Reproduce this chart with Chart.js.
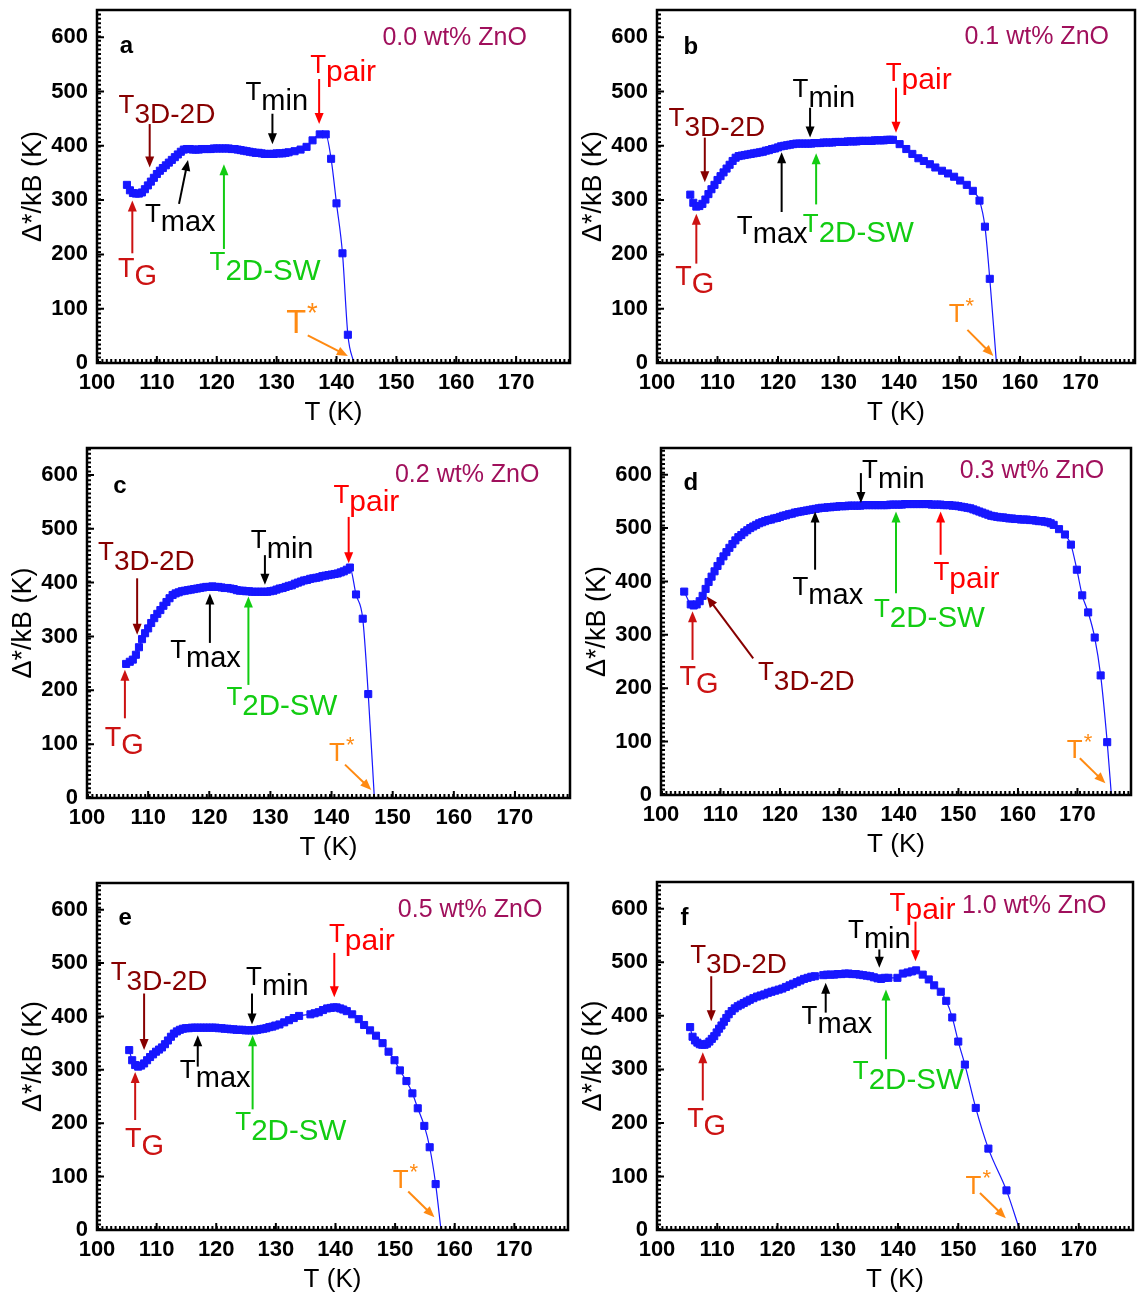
<!DOCTYPE html>
<html>
<head>
<meta charset="utf-8">
<script src="https://cdn.jsdelivr.net/npm/chart.js@4.4.0/dist/chart.umd.min.js"></script>
<style>
  body { margin: 0; background: #fff; width: 1145px; height: 1299px; position: relative; overflow: hidden; }
  canvas { position: absolute; }
</style>
</head>
<body>
<canvas id="pa"></canvas>
<canvas id="pb"></canvas>
<canvas id="pc"></canvas>
<canvas id="pd"></canvas>
<canvas id="pe"></canvas>
<canvas id="pf"></canvas>
<script>
// ---- data: temperature (K) and gap Δ*/kB (K) for each ZnO content ----
const tempA = [105,105.5,106,106.5,107,107.5,108,108.5,109,109.5,110,110.5,111,111.5,112,112.5,113,113.5,114,114.5,
  115,115.5,116,116.5,117,117.5,118,118.5,119,119.5,120,120.5,121,121.5,122,122.5,123,123.5,124,124.5,
  125,125.5,126,126.5,127,127.5,128,128.5,129,129.5,130,130.5,131,131.5,132,
  133,134,135,136,137.2,138.2,139.1,140,141,141.9,142.9];
const gapA = [328,318,313,312,312,314,320,327,334,341,348,354,359,364,369,374,379,384,389,393,
  394,394,393,393,393,394,394,394,394,395,395,395,395,395,395,394,394,393,392,391,
  390,389,388,387,387,386,385,385,385,385,386,386,386,387,388,
  390,393,398,410,421,421,376,294,202,52,0];

const tempB = [105.5,106,106.5,107,107.5,108,108.5,109,109.5,110,110.5,111,111.5,112,112.5,113,113.5,114,114.5,115,
  115.5,116,116.5,117,117.5,118,118.5,119,119.5,120,120.5,121,121.5,122,122.5,123,123.5,124,124.5,125,
  125.5,126,126.5,127,127.5,128,128.5,129,129.5,130,130.5,131,131.5,132,132.5,133,133.5,134,134.5,135,
  135.5,136,136.5,137,137.5,138,138.5,139,
  140.1,141.2,142.2,143.2,144.1,145.1,146,147.1,148.1,149.1,150.1,151.2,152.2,153.3,154.2,155,156.1];
const gapB = [310,295,288,289,293,301,311,320,328,337,344,351,358,365,372,378,381,382,383,384,
  385,386,387,388,389,391,392,394,395,397,399,400,401,402,403,404,404,404,404,404,
  404,405,405,405,406,406,406,406,407,407,407,407,408,408,408,408,409,409,409,409,
  409,410,410,410,410,411,411,411,
  403,394,385,377,372,366,360,354,349,343,336,328,317,299,251,155,0];

const tempC = [106.4,107,107.5,108,108.5,109,109.5,110,110.5,111,111.5,112,112.5,113,113.5,114,114.5,115,115.5,116,116.5,
  117,117.5,118,118.5,119,119.5,120,120.5,121,121.5,122,122.5,123,123.5,124,124.5,125,125.5,126,126.5,
  127,127.5,128,128.5,129,129.5,130,130.5,131,131.5,132,132.5,133,133.5,134,134.5,135,135.5,136,136.5,
  137,137.5,138,138.5,139,139.5,140,140.5,141,141.5,142,142.5,143,
  144,145.1,146,147];
const gapC = [249,253,257,266,280,295,306,315,325,334,342,349,357,364,371,377,380,382,384,385,386,
  387,388,389,390,391,392,392,393,392,392,391,390,390,389,388,386,385,385,384,384,
  383,383,383,383,383,383,384,385,387,389,390,392,394,395,398,400,402,404,405,407,
  408,409,410,412,413,414,415,416,417,419,421,424,428,
  378,333,193,0];

const tempD = [103.9,105,105.5,106,106.5,107,107.5,108,108.5,109,109.5,110,110.5,111,111.5,112,112.5,113,113.5,114,114.5,
  115,115.5,116,116.5,117,117.5,118,118.5,119,119.5,120,120.5,121,121.5,122,122.5,123,123.5,124,124.5,
  125,125.5,126,126.5,127,127.5,128,128.5,129,129.5,130,130.5,131,131.5,132,132.5,133,133.5,134,134.5,
  135,135.5,136,136.5,137,137.5,138,138.5,139,139.5,140,140.5,141,141.5,142,142.5,143,143.5,144,144.5,
  145,145.5,146,146.5,147,147.5,148,148.5,149,149.5,150,150.5,151,151.5,152,152.5,153,153.5,154,154.5,
  155,155.5,156,156.5,157,157.5,158,158.5,159,159.5,160,160.5,161,161.5,162,162.5,163,163.5,164,164.5,
  165,165.5,166,
  166.9,167.9,168.9,169.9,170.8,171.8,172.9,173.9,175,175.7];
const gapD = [381,357,355,357,363,373,386,399,409,419,429,438,447,455,463,470,477,483,487,492,496,
  500,503,506,509,511,513,515,516,518,519,521,523,524,526,527,529,530,531,532,533,
  534,535,536,537,538,538,539,539,540,540,541,541,541,542,542,542,542,542,543,543,
  543,543,543,543,543,543,543,544,544,544,544,544,545,545,545,545,545,545,545,545,
  545,544,544,544,544,543,543,543,542,542,541,540,539,538,537,535,533,531,529,527,
  525,523,522,521,520,520,519,518,518,517,517,516,516,516,515,515,514,513,513,512,
  511,509,506,
  498,488,469,422,374,342,295,224,99,0];

const tempE = [105.4,105.9,106.4,106.9,107.4,107.9,108.4,108.9,109.4,109.9,110.4,110.9,111.4,111.9,112.4,112.9,113.4,113.9,114.4,114.9,
  115.4,115.9,116.4,116.9,117.4,117.9,118.4,118.9,119.4,119.9,120.4,120.9,121.4,121.9,122.4,122.9,123.4,123.9,124.4,124.9,
  125.4,125.9,126.4,126.9,127.4,127.9,128.4,128.9,129.4,129.9,
  130.6,131.4,132.2,133,133.9,135.8,136.5,137.2,137.9,138.6,139.2,139.7,140.2,140.8,141.3,141.9,142.8,143.9,144.8,145.8,
  146.8,147.9,148.9,149.9,150.8,151.9,152.9,153.8,154.9,155.8,156.8,157.7];
const gapE = [337,318,309,306,308,312,318,324,329,334,338,342,348,355,362,368,372,375,377,378,
  378,379,379,379,379,379,379,379,379,379,378,378,377,377,376,376,375,375,375,374,
  374,374,374,375,376,377,378,380,381,383,
  385,389,393,397,401,404,406,408,412,415,416,417,417,415,413,410,404,395,384,374,
  364,350,334,318,299,279,256,228,195,155,86,0];

const tempF = [105.5,105.9,106.3,106.7,107.1,107.5,107.9,108.3,108.7,109.1,109.5,109.9,110.3,110.7,111.1,111.5,111.9,112.4,112.9,113.4,
  113.9,114.4,114.9,115.4,116,116.6,117.2,117.8,118.4,119,119.6,120.2,120.8,121.4,122,122.6,123.2,123.8,124.4,125,
  125.6,126.2,127.6,128.2,128.8,129.4,130,130.6,131.2,131.8,132.4,133,133.6,134.2,134.8,135.4,136,136.6,137.2,137.8,
  138.4,139.9,140.8,141.6,142.3,143,144.1,145.1,146,147.1,148,149,150,151.1,152.9,155,158,160.2];
const gapF = [379,361,354,350,347,346,346,348,352,357,362,369,376,382,389,396,403,409,414,418,
  421,424,427,430,433,436,438,440,443,445,447,449,451,454,457,460,463,466,469,471,
  473,474,476,477,477,477,478,478,479,479,478,478,477,476,475,474,472,470,469,471,
  471,471,479,481,483,485,477,468,457,445,428,397,352,309,228,152,74,0];

// tick labels
const xTicks = [100, 110, 120, 130, 140, 150, 160, 170];
const yTicks = [0, 100, 200, 300, 400, 500, 600];

// ---- annotations, in data units: [kind, tailT, tailGap, tipT, tipGap] and [kind, T, gap, scale] ----
const arrowsA = [['d32',108.8,440,108.8,360],['G',105.9,202,105.9,299],['max',113.7,293,115.2,374],
  ['sw',121.2,210,121.2,366],['min',129.3,459,129.3,403],['pair',137.1,523,137.1,440],['star',135.2,51,141.9,13]];
const labelsA = [['d32',103.6,460],['G',103.5,158],['max',108,259],['sw',118.8,171],
  ['min',124.8,484],['pair',135.6,534],['star',131.6,55,1.25]];

const arrowsB = [['d32',107.9,415,107.9,333],['G',106.5,183,106.5,275],['max',120.6,278,120.6,388],
  ['sw',126.3,292,126.3,386],['min',125.3,470,125.3,415],['pair',139.5,507,139.5,424],['star',151.3,61,155.6,13]];
const labelsB = [['d32',101.9,437],['G',103,143],['max',113.2,238],['sw',124.1,241],
  ['min',122.4,489],['pair',137.8,519],['star',148.2,76]];

const arrowsC = [['d32',108.2,408,108.2,303],['G',106.2,148,106.2,238],['max',120.1,288,120.1,380],
  ['sw',126.4,210,126.4,374],['min',129.1,451,129.1,396],['pair',142.8,522,142.8,436],['star',142.2,62,146.5,15]];
const labelsC = [['d32',101.8,442],['G',102.9,96],['max',113.6,260],['sw',122.8,173],
  ['min',126.8,464],['pair',140.3,547],['star',139.6,68]];

const arrowsD = [['min',133.6,603,133.6,547],['max',125.9,422,125.9,531],['sw',139.5,378,139.5,531],
  ['pair',147,450,147,531],['G',105.3,253,105.3,344],['d32',115.5,256,107.7,372],['star',170.4,69,174.7,22]];
const labelsD = [['min',133.8,594],['max',122.1,375],['sw',135.8,333],['pair',145.8,403],
  ['G',103.1,206],['d32',116.3,216],['star',168.2,69]];

const arrowsE = [['d32',107.9,443,107.9,337],['G',106.4,206,106.4,296],['max',116.9,306,116.9,365],
  ['sw',126.1,226,126.1,365],['min',126,443,126,385],['pair',139.8,519,139.8,436],['star',152.2,72,156.6,24]];
const labelsE = [['d32',102.3,468],['G',104.7,156],['max',113.9,284],['sw',123.2,187],
  ['min',125,458],['pair',138.9,539],['star',149.6,78]];

const arrowsF = [['d32',109,474,109,390],['G',107.6,242,107.6,332],['max',128,406,128,462],
  ['sw',138,319,138,449],['min',136.9,524,136.9,490],['pair',142.9,576,142.9,502],['star',153.6,69,157.9,22]];
const labelsF = [['d32',105.5,499],['G',105,192],['max',124,384],['sw',132.5,282],
  ['min',131.7,545],['pair',138.6,596],['star',151.2,68]];

const letters = ['a', 'b', 'c', 'd', 'e', 'f'];
const letterPos = [[103.8,571],[104.4,569],[104.3,566],[103.8,571],[103.6,571],[103.9,570]];
const concLabels = ['0.0 wt% ZnO', '0.1 wt% ZnO', '0.2 wt% ZnO', '0.3 wt% ZnO', '0.5 wt% ZnO', '1.0 wt% ZnO'];
const concPos = [[171.8,585],[174.7,587],[174,586],[174.5,594],[174.7,587],[174.6,592]];

// ---- styles ----
const FONT = '"Liberation Sans", Arial, Helvetica, sans-serif';
const BLUE = '#1717ff';
const KINDS = {
  G:    { sub: 'G',     color: '#cc1212', main: 27, size: 29, dy: 8 },
  d32:  { sub: '3D-2D', color: '#870000', main: 26, size: 28, dy: 10 },
  max:  { sub: 'max',   color: '#000000', main: 26, size: 29, dy: 9 },
  min:  { sub: 'min',   color: '#000000', main: 26, size: 29, dy: 10 },
  pair: { sub: 'pair',  color: '#ff0000', main: 26, size: 30, dy: 8 },
  sw:   { sub: '2D-SW', color: '#12cc12', main: 26, size: 29.5, dy: 10 },
  star: { sup: '*',     color: '#ff8a12', main: 26, size: 22, dy: -9 }
};

// canvas box of each panel: [left, top, width, height]
const boxes = [[10,0,566,431],[570,0,571,431],[0,438,576,428],[574,438,563,425],[10,873,564,425],[570,872,569,426]];

const panels = [
  [tempA, gapA, arrowsA, labelsA], [tempB, gapB, arrowsB, labelsB], [tempC, gapC, arrowsC, labelsC],
  [tempD, gapD, arrowsD, labelsD], [tempE, gapE, arrowsE, labelsE], [tempF, gapF, arrowsF, labelsF]
];

function drawArrow(ctx, x1, y1, x2, y2, color) {
  const a = Math.atan2(y2 - y1, x2 - x1);
  const L = 11, W = 4.5;
  const c = Math.cos(a), s = Math.sin(a);
  ctx.strokeStyle = color;
  ctx.fillStyle = color;
  ctx.lineWidth = 2;
  ctx.beginPath();
  ctx.moveTo(x1, y1);
  ctx.lineTo(x2 - L * 0.8 * c, y2 - L * 0.8 * s);
  ctx.stroke();
  ctx.beginPath();
  ctx.moveTo(x2, y2);
  ctx.lineTo(x2 - L * c + W * s, y2 - L * s - W * c);
  ctx.lineTo(x2 - L * c - W * s, y2 - L * s + W * c);
  ctx.closePath();
  ctx.fill();
}

function drawLabel(ctx, x, y, kind, f) {
  const k = KINDS[kind];
  f = f || 1;
  ctx.fillStyle = k.color;
  ctx.textAlign = 'left';
  ctx.textBaseline = 'alphabetic';
  ctx.font = (k.main * f) + 'px ' + FONT;
  ctx.fillText('T', x, y);
  const w = ctx.measureText('T').width;
  ctx.font = (k.size * f) + 'px ' + FONT;
  ctx.fillText(k.sub || k.sup, x + w + (k.sup ? 1 : 0), y + k.dy * f);
}

const decor = {
  id: 'decor',
  afterDatasetsDraw(chart) {
    const ctx = chart.ctx;
    const { left, right, top, bottom } = chart.chartArea;
    const xs = chart.scales.x, ys = chart.scales.y;
    ctx.save();
    ctx.strokeStyle = '#000';
    // dotted minor ticks along inner side of bottom and left axes
    ctx.setLineDash([2, 2.4]);
    ctx.lineWidth = 3;
    ctx.beginPath();
    ctx.moveTo(left, bottom - 2.5); ctx.lineTo(right, bottom - 2.5);
    ctx.moveTo(left + 2.5, bottom); ctx.lineTo(left + 2.5, top);
    ctx.stroke();
    ctx.setLineDash([]);
    // major ticks, inward
    ctx.lineWidth = 2;
    ctx.beginPath();
    xs.ticks.forEach(t => {
      const x = xs.getPixelForValue(t.value);
      ctx.moveTo(x, bottom); ctx.lineTo(x, bottom - 7);
    });
    ys.ticks.forEach(t => {
      const y = ys.getPixelForValue(t.value);
      ctx.moveTo(left, y); ctx.lineTo(left + 7, y);
    });
    ctx.stroke();
    // frame
    ctx.lineWidth = 2.5;
    ctx.strokeRect(left, top, right - left, bottom - top);
    ctx.restore();
  },
  afterDraw(chart) {
    const i = +chart.canvas.dataset.idx;
    const ctx = chart.ctx;
    const xs = chart.scales.x, ys = chart.scales.y;
    const X = v => xs.getPixelForValue(v), Y = v => ys.getPixelForValue(v);
    ctx.save();
    panels[i][2].forEach(a => drawArrow(ctx, X(a[1]), Y(a[2]), X(a[3]), Y(a[4]), KINDS[a[0]].color));
    panels[i][3].forEach(l => drawLabel(ctx, X(l[1]), Y(l[2]), l[0], l[3]));
    ctx.fillStyle = '#000';
    ctx.textAlign = 'left';
    ctx.textBaseline = 'alphabetic';
    ctx.font = 'bold 24px ' + FONT;
    ctx.fillText(letters[i], X(letterPos[i][0]), Y(letterPos[i][1]));
    ctx.fillStyle = '#a0105c';
    ctx.textAlign = 'right';
    ctx.font = '25px ' + FONT;
    ctx.fillText(concLabels[i], X(concPos[i][0]), Y(concPos[i][1]));
    ctx.restore();
  }
};

['pa', 'pb', 'pc', 'pd', 'pe', 'pf'].forEach((id, i) => {
  const el = document.getElementById(id);
  const b = boxes[i];
  el.width = b[2];
  el.height = b[3];
  el.style.left = b[0] + 'px';
  el.style.top = b[1] + 'px';
  el.dataset.idx = i;
  const temps = panels[i][0], gaps = panels[i][1];

  new Chart(el, {
    type: 'scatter',
    data: {
      datasets: [{
        data: temps.map((t, j) => ({ x: t, y: gaps[j] })),
        showLine: true,
        borderColor: BLUE,
        borderWidth: 1.2,
        backgroundColor: BLUE,
        pointBackgroundColor: BLUE,
        pointBorderColor: BLUE,
        pointBorderWidth: 1,
        pointStyle: 'rect',
        pointRadius: c => (c.raw && c.raw.y === 0 ? 0 : 5),
        cubicInterpolationMode: 'monotone'
      }]
    },
    options: {
      responsive: false,
      animation: false,
      events: [],
      layout: { padding: { top: 10, right: 4, left: 0, bottom: 0 } },
      plugins: { legend: { display: false }, tooltip: { enabled: false } },
      scales: {
        x: {
          type: 'linear',
          min: 100,
          max: 179,
          afterBuildTicks: s => { s.ticks = xTicks.map(v => ({ value: v })); },
          ticks: { color: '#000', font: { family: FONT, size: 22, weight: 'bold' }, padding: 7, maxRotation: 0, autoSkip: false },
          grid: { display: false, drawTicks: false },
          border: { display: false },
          title: { display: true, text: 'T (K)', color: '#000', font: { family: FONT, size: 26 }, padding: { top: 0, bottom: 3 } },
          afterFit: s => { s.height = 68; s.paddingLeft = 0; s.paddingRight = 0; }
        },
        y: {
          min: 0,
          max: 650,
          afterBuildTicks: s => { s.ticks = yTicks.map(v => ({ value: v })); },
          ticks: { color: '#000', font: { family: FONT, size: 22, weight: 'bold' }, padding: 9 },
          grid: { display: false, drawTicks: false },
          border: { display: false },
          title: { display: true, text: 'Δ*/kB (K)', color: '#000', font: { family: FONT, size: 27 }, padding: { top: 7, bottom: 0 } },
          afterFit: s => { s.width = 87; s.paddingTop = 0; s.paddingBottom = 0; }
        }
      }
    },
    plugins: [decor]
  });
});
</script>
</body>
</html>
